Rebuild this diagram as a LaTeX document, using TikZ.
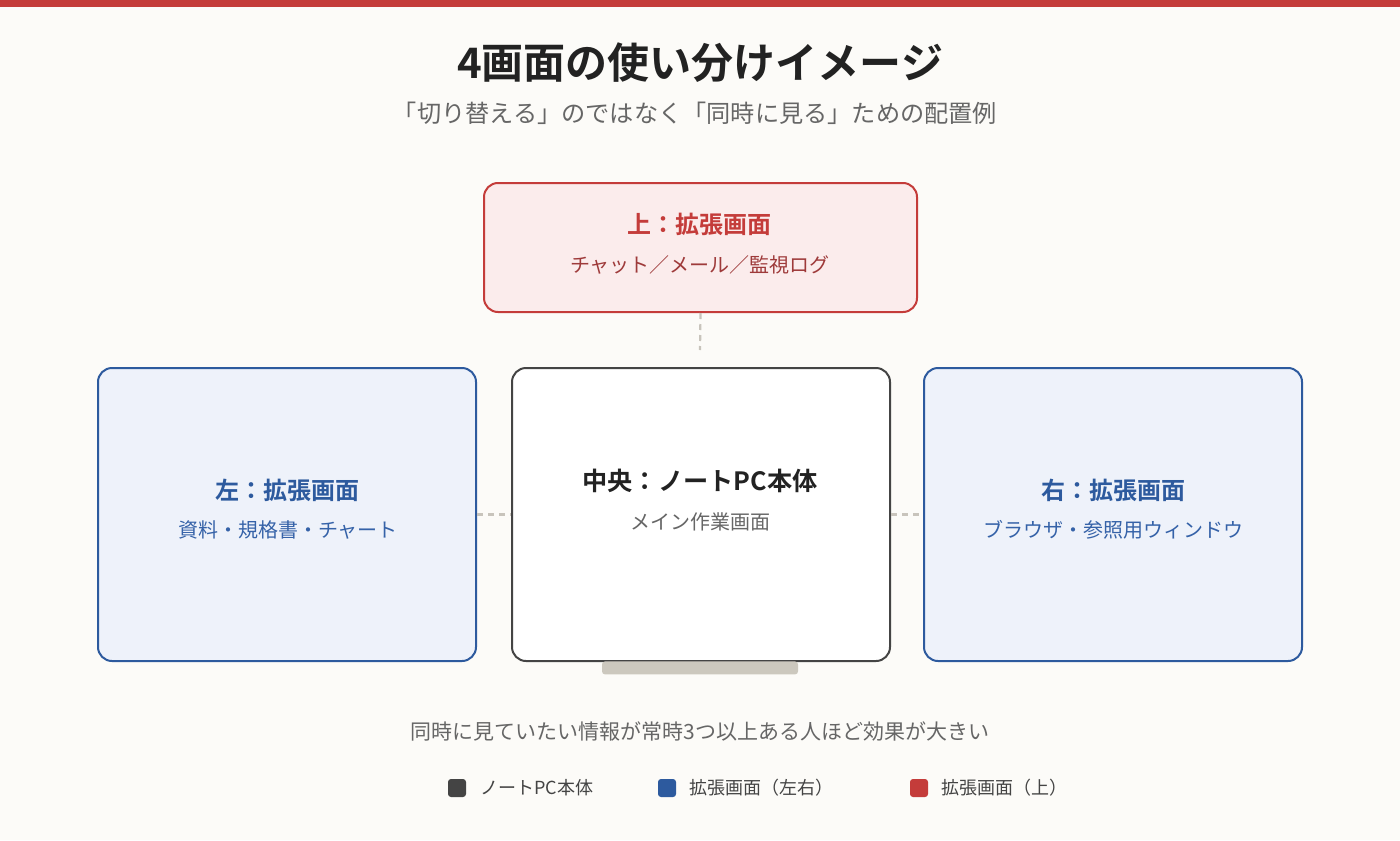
\documentclass[tikz,border=0pt]{standalone}
\usepackage{fontspec}
\setmainfont{Noto Sans CJK JP}[BoldFont={Noto Sans CJK JP Bold}]
\definecolor{bgc}{HTML}{FCFBF8}
\definecolor{redc}{HTML}{C43C3A}
\definecolor{redfill}{HTML}{FBECEC}
\definecolor{redsub}{HTML}{9E3A3A}
\definecolor{bluec}{HTML}{2D5A9E}
\definecolor{bluefill}{HTML}{EEF2FA}
\definecolor{bluesub}{HTML}{3562A8}
\definecolor{darkc}{HTML}{444444}
\definecolor{titlec}{HTML}{222222}
\definecolor{grayt}{HTML}{666666}
\definecolor{standc}{HTML}{CCC8BE}
\definecolor{dashc}{HTML}{C8C4BC}
\begin{document}
\begin{tikzpicture}[x=0.5pt,y=-0.5pt,
  screen/.style={draw, line width=1pt, rounded corners=7pt, inner sep=0pt, anchor=north west},
  redscreen/.style={screen, draw=redc, fill=redfill},
  bluescreen/.style={screen, draw=bluec, fill=bluefill},
  mainscreen/.style={screen, draw=darkc, fill=white},
  txt/.style={inner sep=0pt, anchor=center},
  headred/.style={txt, font=\bfseries\fontsize{12pt}{14pt}\selectfont, text=redc},
  headblue/.style={txt, font=\bfseries\fontsize{12pt}{14pt}\selectfont, text=bluec},
  headmain/.style={txt, font=\bfseries\fontsize{12.6pt}{15pt}\selectfont, text=titlec},
  subred/.style={txt, font=\fontsize{10pt}{12pt}\selectfont, text=redsub},
  subblue/.style={txt, font=\fontsize{10pt}{12pt}\selectfont, text=bluesub},
  submain/.style={txt, font=\fontsize{10pt}{12pt}\selectfont, text=grayt},
  link/.style={draw=dashc, line width=1.1pt, dash pattern=on 3pt off 2.5pt},
  legsq/.style={fill, rounded corners=1.5pt, minimum size=9pt, inner sep=0pt, anchor=center},
  legtxt/.style={txt, anchor=west, font=\fontsize{9pt}{11pt}\selectfont, text=darkc}
]
\useasboundingbox (0,0) rectangle (1400,840);
\fill[bgc] (0,0) rectangle (1400,840);
\fill[redc] (0,0) rectangle (1400,7);

\node[txt, font=\bfseries\fontsize{21pt}{25pt}\selectfont, text=titlec] (title) at (700,63) {4画面の使い分けイメージ};
\node[txt, font=\fontsize{12.1pt}{15pt}\selectfont, text=grayt] (subtitle) at (695,113) {「切り替える」のではなく「同時に見る」ための配置例};

% screens
\node[redscreen, minimum width=216.5pt, minimum height=64.5pt] (top) at (483,182) {};
\node[bluescreen, minimum width=189pt, minimum height=146.5pt] (left) at (97,367) {};
\node[mainscreen, minimum width=189pt, minimum height=146.5pt] (center) at (511,367) {};
\node[bluescreen, minimum width=189pt, minimum height=146.5pt] (right) at (923,367) {};
\node[fill=standc, rounded corners=1.5pt, minimum width=98pt, minimum height=6.5pt, inner sep=0pt, anchor=north] (stand) at (700,661) {};

% connectors
\coordinate (topend) at (700,350);
\draw[link] (top.south) -- (topend);
\draw[link] (left.east) -- (center.west);
\draw[link] (center.east) -- (right.west);

% texts
\node[headred] (toph) at (699,224) {上：拡張画面};
\node[subred] (tops) at (700,265) {チャット／メール／監視ログ};
\node[headblue] (lefth) at (287,490) {左：拡張画面};
\node[subblue] (lefts) at (288,530) {資料・規格書・チャート};
\node[headmain] (centerh) at (700,481) {中央：ノートPC本体};
\node[submain] (centers) at (700,522) {メイン作業画面};
\node[headblue] (righth) at (1113,490) {右：拡張画面};
\node[subblue] (rights) at (1113,530) {ブラウザ・参照用ウィンドウ};

\node[txt, font=\fontsize{10.5pt}{13pt}\selectfont, text=grayt] (note) at (700,731) {同時に見ていたい情報が常時3つ以上ある人ほど効果が大きい};

% legend
\node[legsq, fill=darkc] (lg1) at (457,788) {};
\node[legtxt] (lt1) at (480,788) {ノートPC本体};
\node[legsq, fill=bluec] (lg2) at (667,788) {};
\node[legtxt] (lt2) at (689,788) {拡張画面（左右）};
\node[legsq, fill=redc] (lg3) at (919,788) {};
\node[legtxt] (lt3) at (941,788) {拡張画面（上）};
\end{tikzpicture}
\end{document}
